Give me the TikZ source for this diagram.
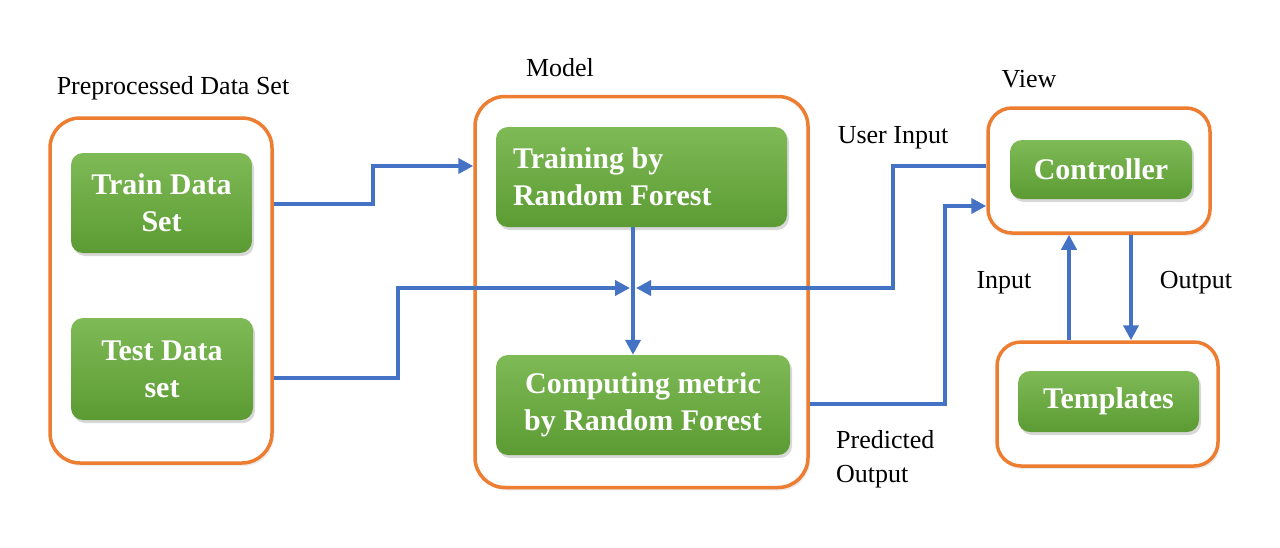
\documentclass[tikz,border=0pt]{standalone}
\usepackage{fontspec}
\setmainfont{Liberation Serif}
\usetikzlibrary{arrows.meta,shadows,calc}
\definecolor{orng}{HTML}{ED7D31}
\definecolor{blu}{HTML}{4472C4}
\definecolor{gtop}{HTML}{7EBA56}
\definecolor{gbot}{HTML}{5C9B33}
\tikzset{
  outerbox/.style={draw=orng, line width=3.5pt, rounded corners=30pt, fill=white,
    drop shadow={opacity=0.15, shadow xshift=2pt, shadow yshift=-3pt}},
  greenbox/.style={rounded corners=12pt, top color=gtop, bottom color=gbot, draw=none,
    text=white, font=\bfseries\fontsize{30}{37}\selectfont, align=center,
    drop shadow={opacity=0.3, shadow xshift=2pt, shadow yshift=-3pt}},
  lbl/.style={font=\fontsize{26}{34}\selectfont, text=black, inner sep=0pt},
  arr/.style={draw=blu, line width=3.8pt, -{Triangle[length=15pt,width=15pt]}},
}
\begin{document}
\begin{tikzpicture}[x=1pt,y=-1pt]
\useasboundingbox (0,0) rectangle (1280,547);
% outer boxes
\node[outerbox, minimum width=222pt, minimum height=345pt] (pre) at (161,290.5) {};
\node[outerbox, minimum width=333pt, minimum height=391pt] (model) at (641.5,292) {};
\node[outerbox, minimum width=222pt, minimum height=125pt, rounded corners=24pt] (view) at (1099,170.5) {};
\node[outerbox, minimum width=221pt, minimum height=124pt, rounded corners=24pt] (tplbox) at (1107.5,404) {};
% green boxes
\node[greenbox, minimum width=181pt, minimum height=100pt] (train) at (161.5,203) {Train Data\\Set};
\node[greenbox, text width=257pt, inner sep=17pt, minimum height=100pt, align=flush left] (trainrf) at (641.5,177) {Training by\\Random Forest};
\node[greenbox, minimum width=182pt, minimum height=102pt] (test) at (162,369) {Test Data\\set};
\node[greenbox, minimum width=294pt, minimum height=100pt] (comp) at (643,405) {Computing metric\\by Random Forest};
\node[greenbox, minimum width=182pt, minimum height=59pt] (ctrl) at (1101,169.5) {Controller};
\node[greenbox, minimum width=181pt, minimum height=61pt] (tpl) at (1108.5,401.5) {Templates};
% labels
\node[lbl] (lpre) at (173,88) {Preprocessed Data Set};
\node[lbl] (lmodel) at (560,68) {Model};
\node[lbl] (lview) at (1029,79) {View};
\node[lbl] (luser) at (893,138) {User Input};
\node[lbl] (lin) at (1004,283) {Input};
\node[lbl] (lout) at (1196,283) {Output};
\node[lbl, anchor=north west, align=left] (lpred) at (836,430) {Predicted\\Output};
% connectors
\coordinate (cross) at (633,288);
\draw[arr] (pre.east |- 0,204) -| (373,185) |- (model.west |- 0,166);
\draw[arr, shorten >=3pt] (pre.east |- 0,378) -| (398,330) |- (cross);
\draw[arr] (trainrf.south -| cross) -- (comp.north -| cross);
\draw[arr, shorten >=3pt] (view.west |- 0,166) -| (893,250) |- (cross);
\draw[arr] (model.east |- 0,404) -| (945,300) |- (view.west |- 0,206);
\draw[arr] (tplbox.north -| 1069,0) -- (view.south -| 1069,0);
\draw[arr] (view.south -| 1131,0) -- (tplbox.north -| 1131,0);
\end{tikzpicture}
\end{document}
